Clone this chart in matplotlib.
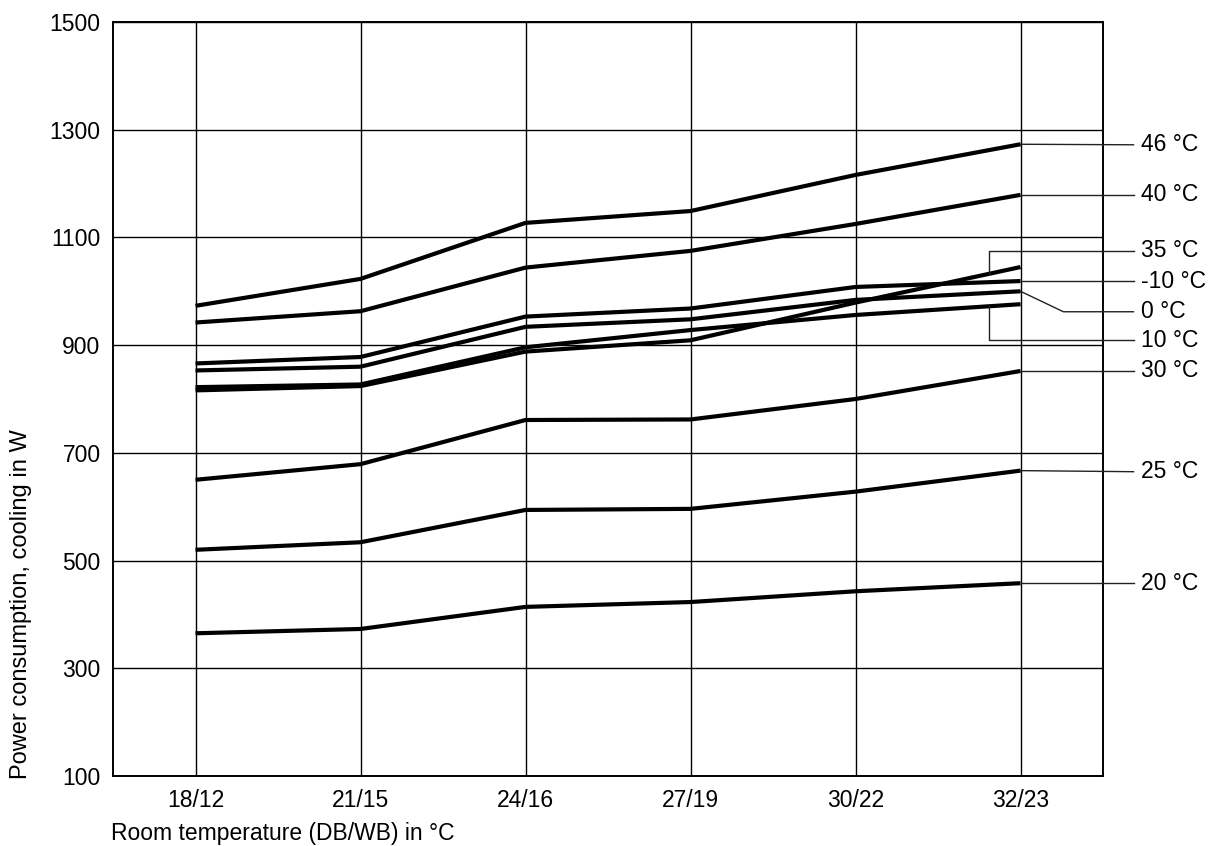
import numpy as np
import matplotlib
matplotlib.use("Agg")
import matplotlib.pyplot as plt

plt.rcParams['font.family'] = ['Liberation Sans', 'DejaVu Sans']

# ---- data ----
categories = ["18/12", "21/15", "24/16", "27/19", "30/22", "32/23"]
series_labels = ["46 °C", "40 °C", "35 °C", "-10 °C", "0 °C", "10 °C", "30 °C", "25 °C", "20 °C"]
s46 = [973, 1023, 1127, 1149, 1216, 1273]
s40 = [942, 963, 1044, 1075, 1125, 1179]
s35 = [816, 824, 888, 909, 979, 1045]
sm10 = [866, 878, 953, 968, 1008, 1019]
s0 = [853, 860, 934, 948, 984, 1000]
s10 = [822, 827, 896, 928, 956, 976]
s30 = [650, 679, 761, 762, 800, 852]
s25 = [520, 534, 594, 596, 628, 667]
s20 = [365, 373, 414, 423, 443, 458]
series = [s46, s40, s35, sm10, s0, s10, s30, s25, s20]
yticks = [100, 300, 500, 700, 900, 1100, 1300, 1500]

# ---- layout (label text positions, W) ----
label_y = [1272, 1179, 1075, 1019, 962, 909, 852, 665, 458]

W, H = 1210, 846
fig = plt.figure(figsize=(W / 100, H / 100), dpi=100)
ax = fig.add_axes([113 / W, 1 - 776 / H, (1103 - 113) / W, (776 - 22) / H])

x = np.arange(len(categories))
for s in series:
    ax.plot(x, s, color='black', lw=3.0, solid_capstyle='butt', zorder=3)

ax.set_xlim(-0.5, 5.5)
ax.set_ylim(100, 1500)
ax.set_xticks(x)
ax.set_xticklabels(categories)
ax.set_yticks(yticks)
ax.grid(True, color='black', lw=1.0, zorder=1)
ax.set_axisbelow(True)
for sp in ax.spines.values():
    sp.set_linewidth(1.4)
ax.tick_params(axis='both', length=0, labelsize=16.5)
ax.tick_params(axis='x', pad=9)
ax.tick_params(axis='y', pad=9)

# leader lines and labels
xr = 5.685
xt = 5.73
xb = 4.812
lead_kw = dict(color='#222222', lw=1.0, clip_on=False, zorder=4)
last = len(categories) - 1
for lab, s, ly in zip(series_labels, series, label_y):
    if lab == "35 °C":
        yb = np.interp(xb, x, s)
        ax.plot([xr, xb, xb], [ly, ly, yb], **lead_kw)
    elif lab == "10 °C":
        yb = np.interp(xb, x, s)
        ax.plot([xb, xb, xr], [yb, ly, ly], **lead_kw)
    elif lab == "0 °C":
        ax.plot([last, 5.26, xr], [s[-1], ly, ly], **lead_kw)
    else:
        ax.plot([last, xr], [s[-1], ly], **lead_kw)
    ax.text(xt, ly, lab, fontsize=16.5, va='center', ha='left', clip_on=False)

fig.text(111 / W, 1 - 840 / H, "Room temperature (DB/WB) in °C", fontsize=16.5,
         ha='left', va='baseline')
fig.text(21 / W, 1 - 604 / H, "Power consumption, cooling in W", rotation=90,
         fontsize=17, ha='center', va='center')

fig.savefig("out.png", dpi=100)
